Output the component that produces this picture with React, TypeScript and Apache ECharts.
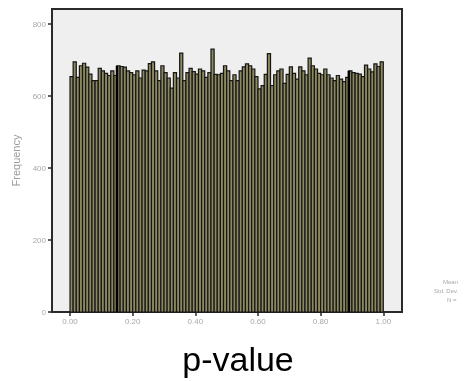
import React, { useEffect, useRef } from "react";
import * as echarts from "echarts";

// Histogram of p-values: 100 bins of width 0.01 from 0.00 to 1.00
const binWidth = 0.01;
const counts: number[] = [
  654, 695, 652, 684, 691, 680, 661, 643, 643, 677,
  670, 663, 657, 670, 657, 684, 682, 680, 670, 665,
  659, 670, 650, 672, 670, 690, 695, 670, 643, 684,
  665, 650, 622, 665, 650, 719, 643, 665, 677, 668,
  661, 675, 670, 652, 665, 730, 660, 659, 663, 684,
  670, 643, 659, 643, 670, 681, 689, 684, 675, 654,
  620, 629, 660, 718, 629, 659, 670, 675, 635, 660,
  681, 663, 647, 681, 670, 659, 705, 684, 675, 663,
  659, 675, 659, 650, 643, 657, 647, 640, 652, 670,
  665, 663, 661, 654, 686, 675, 667, 689, 682, 695,
];
const xTicks: number[] = [0, 0.2, 0.4, 0.6, 0.8, 1.0];
const yTicks: number[] = [0, 200, 400, 600, 800];
const heavyEdgeBins: number[] = [15, 89];
const statLabels: string[] = ["Mean", "Std. Dev.", "N ="];

export default function App() {
  const ref = useRef<HTMLDivElement>(null);
  useEffect(() => {
    if (!ref.current) return;
    const chart = echarts.init(ref.current, null, { renderer: "svg" });
    const data = counts.map((c, i) => [i * binWidth, (i + 1) * binWidth, c, i]);
    const font = "'Liberation Sans', Arial, sans-serif";
    chart.setOption({
      animation: false,
      grid: {
        left: 52,
        right: 63,
        top: 9,
        bottom: 69,
        show: true,
        backgroundColor: "#efefef",
        borderColor: "#2a2a2a",
        borderWidth: 2,
      },
      xAxis: {
        type: "value",
        min: -0.0575,
        max: 1.0597,
        splitLine: { show: false },
        axisLine: { show: true, onZero: false, lineStyle: { color: "#2a2a2a", width: 2 } },
        axisTick: { show: true, customValues: xTicks, length: 4, lineStyle: { color: "#2a2a2a", width: 1.5 } },
        axisLabel: {
          customValues: xTicks,
          formatter: (v: number) => v.toFixed(2),
          color: "#a8a8a8",
          fontSize: 8,
          margin: 5,
          fontFamily: font,
        },
      },
      yAxis: {
        type: "value",
        min: 0,
        max: 841.7,
        splitLine: { show: false },
        name: "Frequency",
        nameLocation: "middle",
        nameGap: 29,
        nameTextStyle: { color: "#9a9a9a", fontSize: 11, fontFamily: font },
        axisLine: { show: true, onZero: false, lineStyle: { color: "#2a2a2a", width: 2 } },
        axisTick: { show: true, customValues: yTicks, length: 4, lineStyle: { color: "#2a2a2a", width: 1.5 } },
        axisLabel: {
          customValues: yTicks,
          formatter: (v: number) => String(v),
          color: "#a8a8a8",
          fontSize: 8,
          margin: 6,
          fontFamily: font,
        },
      },
      series: [
        {
          type: "custom",
          data,
          encode: { x: [0, 1], y: 2 },
          renderItem: (params: any, api: any) => {
            const x0 = api.value(0);
            const x1 = api.value(1);
            const y = api.value(2);
            const idx = api.value(3);
            const pTop = api.coord([x0, y]);
            const pBot = api.coord([x1, 0]);
            const children: any[] = [
              {
                type: "rect",
                shape: { x: pTop[0], y: pTop[1], width: pBot[0] - pTop[0], height: pBot[1] - pTop[1] },
                style: { fill: "#8c8860", stroke: "#161616", lineWidth: 1.2 },
              },
            ];
            if (heavyEdgeBins.indexOf(idx) >= 0) {
              children.push({
                type: "line",
                shape: { x1: pTop[0], y1: pTop[1], x2: pTop[0], y2: pBot[1] },
                style: { stroke: "#000", lineWidth: 2.5 },
              });
            }
            return { type: "group", children };
          },
        },
      ],
      graphic: [
        {
          type: "text",
          x: 238,
          y: 359,
          style: {
            text: "p-value",
            fontSize: 34,
            fill: "#000",
            fontFamily: font,
            align: "center",
            verticalAlign: "middle",
          },
        },
        ...statLabels.map((t, i) => ({
          type: "text",
          left: [443, 434, 447][i],
          top: 279 + i * 9,
          style: { text: t, fontSize: 6, fill: "#a8a8a8", fontFamily: font },
        })),
      ],
    });
    return () => chart.dispose();
  }, []);
  return (
    <div
      ref={ref}
      style={{ position: "fixed", left: 0, top: 0, width: 465, height: 381 }}
    />
  );
}
